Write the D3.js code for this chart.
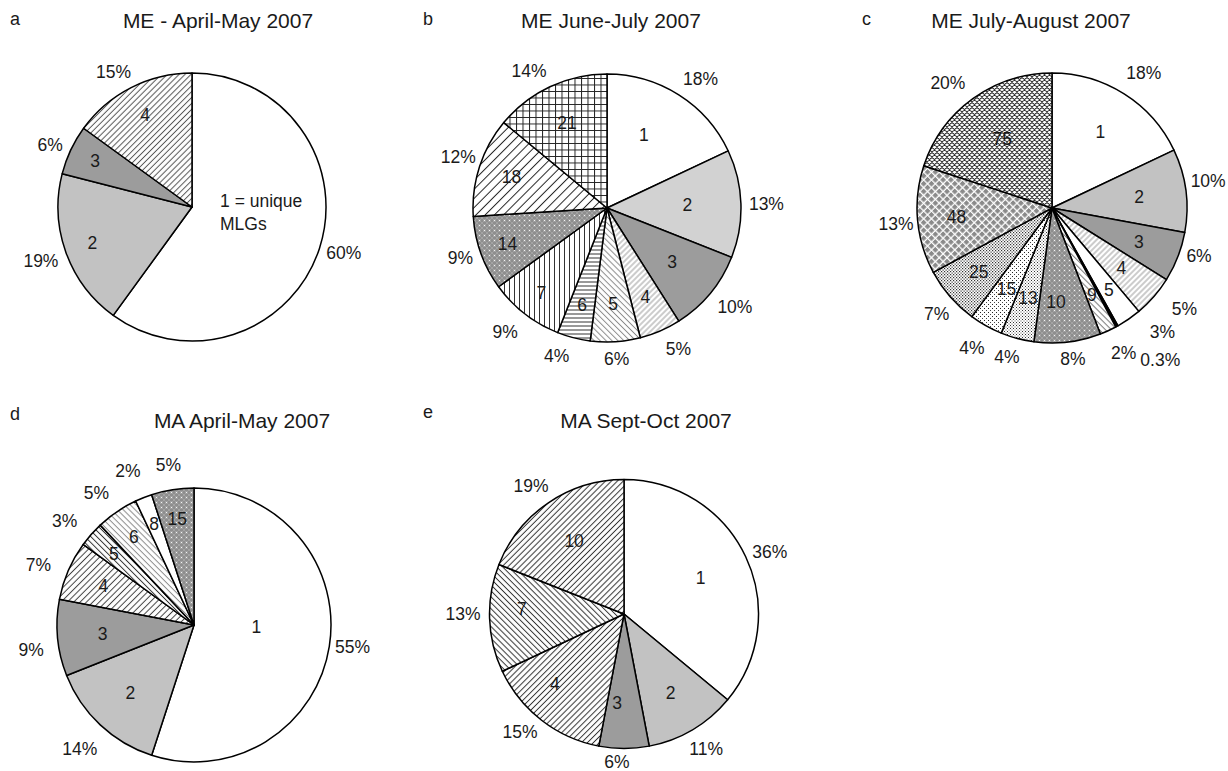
<!DOCTYPE html>
<html><head><meta charset="utf-8">
<script src="https://cdn.jsdelivr.net/npm/d3@7"></script>
<style>
body{margin:0;background:#fff}
svg text{font-family:"Liberation Sans",Arial,Helvetica,sans-serif;fill:#1a1a1a}
</style></head><body>
<svg id="fig" width="1228" height="771"></svg>
<script>
// Panel headings
const panelTags = ["a", "b", "c", "d", "e"];
const titles = ["ME - April-May 2007", "ME June-July 2007", "ME July-August 2007", "MA April-May 2007", "MA Sept-Oct 2007"];

// MLG size classes (slice labels) and their share of isolates (%)
const mlgA = ["1 = unique\nMLGs", "2", "3", "4"];
const shareA = [60, 19, 6, 15];
const mlgB = ["1", "2", "3", "4", "5", "6", "7", "14", "18", "21"];
const shareB = [18, 13, 10, 5, 6, 4, 9, 9, 12, 14];
const mlgC = ["1", "2", "3", "4", "5", "", "9", "10", "13", "15", "25", "48", "75"];
const shareC = [18, 10, 6, 5, 3, 0.3, 2, 8, 4, 4, 7, 13, 20];
const mlgD = ["1", "2", "3", "4", "5", "6", "8", "15"];
const shareD = [55, 14, 9, 7, 3, 5, 2, 5];
const mlgE = ["1", "2", "3", "4", "7", "10"];
const shareE = [36, 11, 6, 15, 13, 19];

// Fill style per slice
const fillA = ["white", "light", "mid", "fwdGray"];
const fillB = ["white", "light2", "mid", "fwdLight", "backLight", "horiz", "vert", "grayDots", "fwdWide", "grid"];
const fillC = ["white", "light", "mid", "fwdLight", "white", "black", "backMid", "grayDots", "dotsFine", "dotsSparse", "dotsDense", "diamonds", "scales"];
const fillD = ["white", "light", "mid", "fwdMid", "backDark", "backLight", "white", "grayDots"];
const fillE = ["white", "light", "mid", "fwdDark", "backDark", "fwdDark"];

// Layout: pie centre / radius, heading positions
const layout = [
  {cx: 192, cy: 207, r: 134, tagX: 10, tagY: 25, titleX: 218, titleY: 28},
  {cx: 607, cy: 208, r: 134, tagX: 423, tagY: 25, titleX: 611, titleY: 28},
  {cx: 1052, cy: 208, r: 135, tagX: 862, tagY: 25, titleX: 1031, titleY: 28},
  {cx: 194, cy: 625, r: 137, tagX: 10, tagY: 420, titleX: 242, titleY: 428},
  {cx: 624, cy: 614, r: 134.5, tagX: 423, tagY: 418, titleX: 646, titleY: 428}
];
// Inner label radius (fraction of pie radius) and small offsets
const innerFrac = [
  [0.22, 0.79, 0.80, 0.77],
  [0.61, 0.60, 0.63, 0.72, 0.72, 0.75, 0.80, 0.79, 0.75, 0.70],
  [0.67, 0.65, 0.69, 0.68, 0.74, 0, 0.71, 0.70, 0.69, 0.69, 0.72, 0.71, 0.63],
  [0.46, 0.68, 0.67, 0.72, 0.78, 0.78, 0.79, 0.78],
  [0.63, 0.68, 0.66, 0.73, 0.76, 0.66]
];
const innerNudge = {"1-0": [-7, -4], "3-0": [0, -8], "4-2": [-7, 0], "4-3": [-9, -8], "4-4": [0, -8], "2-7": [-7, 0]};
// Outside percentage label offsets
const pctNudge = [
  [[0, 0], [-1, 4], [-2, 1], [-6, -3]],
  [[8, -4], [0, 1], [5, 5], [10, 5], [0, 3], [-12, 5], [-7, 7], [-1, 0], [3, -5], [-10, -3]],
  [[6, -9], [-3, -8], [2, -6], [15, 3], [22, 1], [30, 21], [7, 10], [3, 3], [-5, 5], [-4, 10], [2, 8], [4, 3], [-10, -4]],
  [[-2, -2], [-3, 14], [-6, 11], [-11, 0], [-11, -4], [-9, -7], [-8, -14], [-1, -11]],
  [[1, 1], [1, 7], [-7, -1], [-6, 1], [-1, -5], [-3, -5]]
];

const panels = [
  {labels: mlgA, values: shareA, fills: fillA},
  {labels: mlgB, values: shareB, fills: fillB},
  {labels: mlgC, values: shareC, fills: fillC},
  {labels: mlgD, values: shareD, fills: fillD},
  {labels: mlgE, values: shareE, fills: fillE}
];

const svg = d3.select("#fig");
const defs = svg.append("defs");

function pattern(id, w, h, rot, bg) {
  const p = defs.append("pattern").attr("id", id)
    .attr("patternUnits", "userSpaceOnUse").attr("width", w).attr("height", h);
  if (rot) p.attr("patternTransform", `rotate(${rot})`);
  p.append("rect").attr("width", w).attr("height", h).attr("fill", bg || "white");
  return p;
}
function lines(id, gap, rot, color, sw) {
  const p = pattern(id, gap, gap, rot);
  p.append("line").attr("x1", gap / 2).attr("y1", 0).attr("x2", gap / 2).attr("y2", gap)
    .attr("stroke", color).attr("stroke-width", sw);
}
lines("fwdGray", 4.2, 45, "#555", 1);
lines("fwdLight", 4, 45, "#9a9a9a", 1);
lines("backLight", 4.2, -45, "#8a8a8a", 1);
lines("fwdWide", 6.5, 45, "#222", 1);
lines("fwdMid", 4.5, 45, "#444", 1);
lines("backMid", 4.2, -45, "#777", 1);
lines("backDark", 4.2, -45, "#333", 1);
lines("fwdDark", 4.2, 45, "#333", 1);
lines("horiz", 4, 90, "#333", 1);
lines("vert", 5, 0, "#333", 1);
{
  const p = pattern("grid", 6.5, 6.5, 0);
  p.append("path").attr("d", "M0,0.5H6.5M0.5,0V6.5").attr("stroke", "#222").attr("stroke-width", 1);
}
{
  const p = pattern("grayDots", 5, 5, 0, "#8e8e8e");
  p.append("path").attr("d", "M0,0L5,5M5,0L0,5").attr("stroke", "#a8a8a8").attr("stroke-width", 0.8);
  p.append("circle").attr("cx", 2.5).attr("cy", 2.5).attr("r", 0.75).attr("fill", "#f4f4f4");
}
{
  const p = pattern("dotsFine", 3, 3, 0);
  p.append("rect").attr("x", 0).attr("y", 0).attr("width", 1).attr("height", 1).attr("fill", "#333");
  p.append("rect").attr("x", 1.5).attr("y", 1.5).attr("width", 1).attr("height", 1).attr("fill", "#555");
}
{
  const p = pattern("dotsSparse", 4, 4, 0);
  p.append("rect").attr("x", 0).attr("y", 0).attr("width", 1).attr("height", 1).attr("fill", "#222");
  p.append("rect").attr("x", 2).attr("y", 2).attr("width", 1).attr("height", 1).attr("fill", "#444");
}
{
  const p = pattern("dotsDense", 3, 3, 0);
  p.append("rect").attr("x", 0).attr("y", 0).attr("width", 1.2).attr("height", 1.2).attr("fill", "#333");
  p.append("rect").attr("x", 1.5).attr("y", 1.5).attr("width", 1.2).attr("height", 1.2).attr("fill", "#333");
}
{
  const p = pattern("diamonds", 5.5, 5.5, 45);
  p.append("rect").attr("x", 0).attr("y", 0).attr("width", 4.2).attr("height", 4.2).attr("fill", "#8a8a8a");
}
{
  // fish-scale loops
  const p = pattern("scales", 5, 5, 0);
  p.append("path")
    .attr("d", "M0,5A2.5,2.5 0 0 1 5,5M-2.5,2.5A2.5,2.5 0 0 1 2.5,2.5M2.5,2.5A2.5,2.5 0 0 1 7.5,2.5")
    .attr("fill", "none").attr("stroke", "#111").attr("stroke-width", 0.9);
}

const solid = {white: "#ffffff", light: "#c2c2c2", light2: "#d2d2d2", mid: "#9c9c9c", black: "#000000"};
const fillOf = k => solid[k] || `url(#${k})`;

const pie = d3.pie().sort(null).value(d => d).startAngle(0).endAngle(2 * Math.PI);

panels.forEach((pd, pi) => {
  const L = layout[pi];
  svg.append("text").attr("x", L.tagX).attr("y", L.tagY).attr("font-size", 18).text(panelTags[pi]);
  svg.append("text").attr("x", L.titleX).attr("y", L.titleY).attr("text-anchor", "middle")
    .attr("font-size", 21).text(titles[pi]);

  const g = svg.append("g").attr("transform", `translate(${L.cx},${L.cy})`);
  const arcs = pie(pd.values);
  const arc = d3.arc().innerRadius(0).outerRadius(L.r);
  g.selectAll("path.slice").data(arcs).join("path").attr("class", "slice")
    .attr("d", arc)
    .attr("fill", (d, i) => fillOf(pd.fills[i]))
    .attr("stroke", "#000").attr("stroke-width", 1.5).attr("stroke-linejoin", "round");

  // Labels inside slices
  arcs.forEach((d, i) => {
    const lab = pd.labels[i];
    if (!lab) return;
    const mid = (d.startAngle + d.endAngle) / 2;
    const rr = innerFrac[pi][i] * L.r;
    const nd = innerNudge[`${pi}-${i}`] || [0, 0];
    const x = Math.sin(mid) * rr + nd[0], y = -Math.cos(mid) * rr + nd[1];
    const parts = lab.split("\n");
    const t = g.append("text").attr("font-size", 17.5);
    if (parts.length > 1) {
      t.attr("text-anchor", "start");
      parts.forEach((s, k) => t.append("tspan").attr("x", x).attr("y", y - 9 + k * 23).text(s));
    } else {
      t.attr("text-anchor", "middle").attr("x", x).attr("y", y + 6).text(lab);
    }
  });

  // Percentage labels outside the pie
  arcs.forEach((d, i) => {
    const mid = (d.startAngle + d.endAngle) / 2;
    const t = g.append("text").attr("font-size", 17.5).attr("text-anchor", "middle").text(`${pd.values[i]}%`);
    const w = t.node().getComputedTextLength();
    const ra = L.r + 8;
    const s = Math.sin(mid), c = Math.cos(mid);
    const nd = pctNudge[pi][i];
    const cx = s * ra + s * w / 2 + nd[0];
    const cy = -c * ra - c * 6 + nd[1];
    t.attr("x", cx).attr("y", cy + 6);
  });
});
</script>
</body></html>
